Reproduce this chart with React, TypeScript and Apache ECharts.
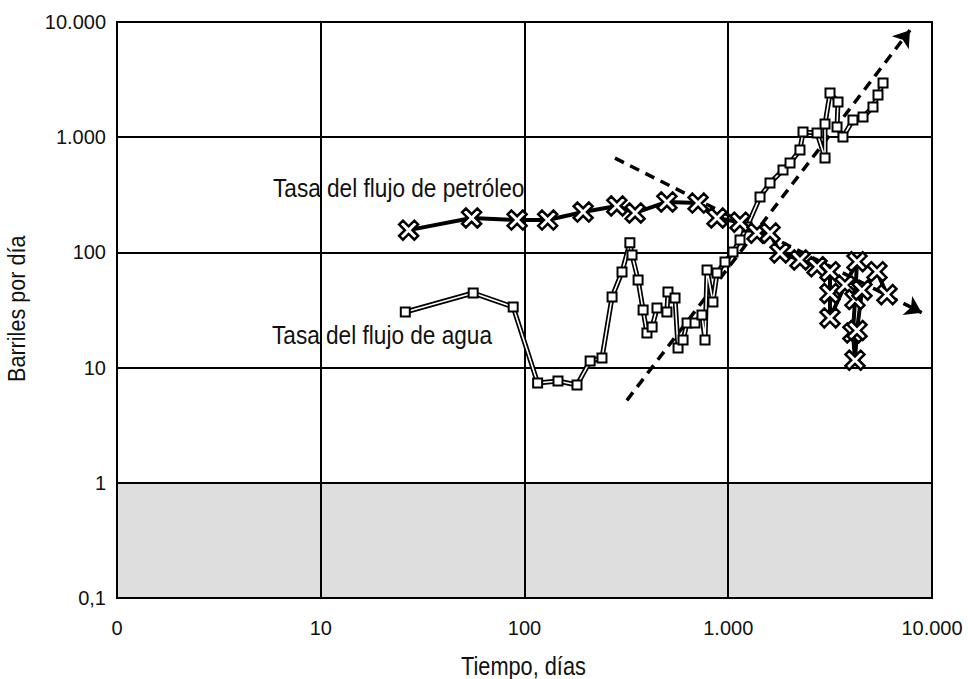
import React, { useEffect, useRef } from "react";
import * as echarts from "echarts";

// Tick values and labels (Spanish number format)
const xTickValues = [1, 10, 100, 1000, 10000];
const xTickLabels = ["0", "10", "100", "1.000", "10.000"];
const yTickValues = [0.1, 1, 10, 100, 1000, 10000];
const yTickLabels = ["0,1", "1", "10", "100", "1.000", "10.000"];

// Oil flow rate (barrels/day) vs time (days)
const oilDays = [27, 55, 92, 130, 194, 284, 349, 500, 711, 881, 1142, 1384, 1603, 1795, 2249, 2728, 3158, 3158, 3158, 3741, 4285, 4188, 4093, 4188, 4285, 4531, 5370, 6013];
const oilRate = [156, 199, 191, 191, 224, 253, 220, 274, 268, 199, 183, 147, 147, 99, 86, 75, 68, 44, 27, 52, 83, 39, 20, 11.6, 21, 47, 68, 43];

// Water flow rate (barrels/day) vs time (days)
const waterDays = [26, 56, 88, 116, 146, 181, 210, 240, 269, 301, 329, 337, 361, 382, 399, 423, 447, 500, 506, 548, 567, 600, 628, 687, 743, 769, 787, 841, 881, 964, 1055, 1142, 1236, 1432, 1603, 1857, 2010, 2249, 2328, 2728, 2985, 2985, 3158, 3457, 3419, 3656, 4093, 4586, 5133, 5432, 5750];
const waterRate = [30.4, 44.4, 33.6, 7.35, 7.65, 7.06, 11.4, 12.1, 41, 67.6, 121, 95, 57.6, 31.6, 20, 22.5, 32.9, 30.4, 45.3, 40.2, 14.8, 17.4, 24.4, 24.4, 28.6, 17.4, 70.4, 37.1, 66.3, 82.5, 101, 128, 166, 303, 400, 519, 597, 774, 1109, 1088, 659, 1300, 2420, 2021, 1227, 1004, 1410, 1497, 1828, 2325, 2955];

// Dashed trend arrows: [start, end]
const oilTrend = [[278, 659], [8900, 30]];
const waterTrend = [[318, 5.2], [7800, 8500]];

// Text
const oilLabel = "Tasa del flujo de petróleo";
const waterLabel = "Tasa del flujo de agua";
const xName = "Tiempo, días";
const yName = "Barriles por día";

const font = '"Liberation Sans", Arial, sans-serif';

function fmt(values: number[], labels: string[]) {
  return (v: number) => {
    const i = values.findIndex((t) => Math.abs(Math.log10(t) - Math.log10(v)) < 1e-6);
    return i >= 0 ? labels[i] : "";
  };
}

const oilSymbol =
  "path://M2,0 L5,3 L8,0 L10,2 L7,5 L10,8 L8,10 L5,7 L2,10 L0,8 L3,5 L0,2 Z";

export default function App() {
  const ref = useRef<HTMLDivElement>(null);
  useEffect(() => {
    if (!ref.current) return;
    const chart = echarts.init(ref.current, null, { renderer: "svg" });
    const oilData = oilDays.map((d, i) => [d, oilRate[i]]);
    const waterData = waterDays.map((d, i) => [d, waterRate[i]]);
    const textStyle = (text: string, size: number) => ({
      text,
      fontSize: size,
      fontFamily: font,
      fill: "#111",
      textVerticalAlign: "middle",
    });
    chart.setOption({
      animation: false,
      backgroundColor: "#ffffff",
      grid: {
        left: 117,
        top: 22,
        right: 36,
        bottom: 81,
        show: true,
        borderColor: "#000",
        borderWidth: 2,
      },
      xAxis: {
        type: "log",
        logBase: 10,
        min: 1,
        max: 10000,
        axisLine: { show: true, lineStyle: { color: "#000", width: 2 } },
        axisTick: { show: false },
        minorTick: { show: false },
        axisLabel: {
          color: "#111",
          fontSize: 20,
          fontFamily: font,
          margin: 20,
          formatter: fmt(xTickValues, xTickLabels),
        },
        splitLine: { show: true, lineStyle: { color: "#000", width: 2 } },
      },
      yAxis: {
        type: "log",
        logBase: 10,
        min: 0.1,
        max: 10000,
        axisLine: { show: true, lineStyle: { color: "#000", width: 2 } },
        axisTick: { show: false },
        minorTick: { show: false },
        axisLabel: {
          color: "#111",
          fontSize: 20,
          fontFamily: font,
          margin: 11,
          formatter: fmt(yTickValues, yTickLabels),
        },
        splitLine: { show: true, lineStyle: { color: "#000", width: 2 } },
      },
      graphic: [
        {
          type: "text",
          x: 273,
          y: 188,
          scaleX: 0.87,
          style: textStyle(oilLabel, 26),
          z: 10,
        },
        {
          type: "text",
          x: 272,
          y: 335,
          scaleX: 0.87,
          style: textStyle(waterLabel, 26),
          z: 10,
        },
        {
          type: "text",
          x: 461,
          y: 666,
          scaleX: 0.87,
          style: textStyle(xName, 25),
        },
        {
          type: "text",
          x: 17,
          y: 382,
          rotation: Math.PI / 2,
          scaleX: 0.9,
          style: textStyle(yName, 24),
        },
      ],
      series: [
        {
          type: "line",
          data: [[1, 0.1], [10000, 0.1]],
          symbol: "none",
          lineStyle: { width: 0 },
          silent: true,
          markArea: {
            silent: true,
            itemStyle: { color: "rgba(0,0,0,0.13)" },
            data: [[{ coord: [1, 0.1] }, { coord: [10000, 1] }]],
          },
        },
        {
          type: "lines",
          coordinateSystem: "cartesian2d",
          symbol: ["none", "arrow"],
          symbolSize: 16,
          lineStyle: { color: "#000", width: 3.5, type: [10, 7], opacity: 1 },
          data: [{ coords: oilTrend }, { coords: waterTrend }],
          z: 3,
        },
        {
          type: "line",
          data: waterData,
          symbol: "none",
          lineStyle: { color: "#000", width: 5 },
          z: 4,
        },
        {
          type: "line",
          data: waterData,
          symbol: "rect",
          symbolSize: 9,
          itemStyle: { color: "#fff", borderColor: "#000", borderWidth: 2 },
          lineStyle: { color: "#fff", width: 1.6 },
          z: 5,
        },
        {
          type: "line",
          data: oilData,
          symbol: oilSymbol,
          symbolSize: 19,
          itemStyle: { color: "#fff", borderColor: "#000", borderWidth: 2.5 },
          lineStyle: { color: "#000", width: 4 },
          z: 6,
        },
      ],
    });
    return () => chart.dispose();
  }, []);
  return (
    <div
      ref={ref}
      style={{ position: "fixed", left: 0, top: 0, width: 968, height: 679 }}
    />
  );
}
